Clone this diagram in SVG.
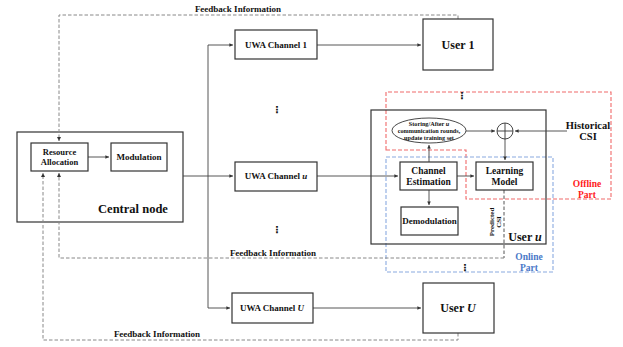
<svg xmlns="http://www.w3.org/2000/svg" width="623" height="347" viewBox="0 0 623 347">
  <style>
    text { font-family: "Liberation Serif", "Times New Roman", serif; font-weight: bold; fill: #111; text-anchor: middle; }
    .box { fill: #fff; stroke: #333; stroke-width: 1.2; }
    .frame { fill: none; stroke: #333; stroke-width: 1.2; }
    .wire { fill: none; stroke: #444; stroke-width: 0.9; }
    .fb { fill: none; stroke: #888; stroke-width: 1; stroke-dasharray: 3.5 2; }
    .fbd { fill: none; stroke: #555; stroke-width: 1; stroke-dasharray: 3.5 2; }
    .red { fill: none; stroke: #f06a6a; stroke-width: 1.1; stroke-dasharray: 4 2; }
    .blue { fill: none; stroke: #8aaae0; stroke-width: 1.1; stroke-dasharray: 4 2; }
    .dots { font-family: "DejaVu Sans", sans-serif; font-size: 10px; }
  </style>
  <defs>
    <marker id="arr" viewBox="0 0 6 6" refX="6" refY="3" markerWidth="4" markerHeight="4" orient="auto">
      <path d="M0,0 L6,3 L0,6 Z" fill="#333"/>
    </marker>
  </defs>

  <rect width="623" height="347" fill="#fff"/>

  <!-- offline / online regions -->
  <g id="offline-part">
    <path class="red" d="M386,150 V92 H611 V199 H466 V150 Z"/>
    <text x="587" y="187" font-size="9.5" style="fill:#ff1a1a">Offline</text>
    <text x="587" y="198" font-size="9.5" style="fill:#ff1a1a">Part</text>
  </g>
  <g id="online-part">
    <rect class="blue" x="386" y="157" width="167" height="115"/>
    <text x="529" y="260" font-size="9.5" style="fill:#4a78c8">Online</text>
    <text x="529" y="271" font-size="9.5" style="fill:#4a78c8">Part</text>
  </g>

  <!-- frames drawn beneath the connectors -->
  <g id="central-node">
    <rect class="frame" x="17" y="132" width="166" height="90"/>
    <text x="133" y="213" font-size="12.5">Central node</text>
  </g>
  <g id="user-u">
    <rect class="frame" x="371" y="110" width="175" height="134"/>
    <text x="525" y="241" font-size="12">User <tspan font-style="italic">u</tspan></text>
  </g>

  <!-- connectors -->
  <g id="connectors">
    <!-- central node to channels -->
    <path class="wire" d="M183,176 H233" marker-end="url(#arr)"/>
    <path class="wire" d="M208,308 V45 H233" marker-end="url(#arr)"/>
    <path class="wire" d="M208,308 H230" marker-end="url(#arr)"/>
    <!-- channels to users -->
    <path class="wire" d="M317,45 H421" marker-end="url(#arr)"/>
    <path class="wire" d="M317,176 H398" marker-end="url(#arr)"/>
    <path class="wire" d="M313,308 H421" marker-end="url(#arr)"/>
    <!-- inside central node -->
    <path class="wire" d="M88,157 H109" marker-end="url(#arr)"/>
    <!-- inside user u -->
    <path class="wire" d="M457,176 H474" marker-end="url(#arr)"/>
    <path class="wire" d="M429,190 V205" marker-end="url(#arr)"/>
    <path class="wire" d="M429,162 V145" marker-end="url(#arr)"/>
    <path class="wire" d="M466,131 H495" marker-end="url(#arr)"/>
    <path class="wire" d="M567,131 H515" marker-end="url(#arr)"/>
    <path class="wire" d="M505,139 V160" marker-end="url(#arr)"/>
    <!-- feedback paths -->
    <path class="fb" d="M458,19 V15 H59 V141" marker-end="url(#arr)"/>
    <path class="fbd" d="M504,190 V258"/>
    <path class="fb" d="M504,258 H59 V173" marker-end="url(#arr)"/>
    <path class="fb" d="M458,333 V340 H43 V173" marker-end="url(#arr)"/>
    <text x="238" y="12" font-size="9">Feedback Information</text>
    <text x="273" y="256" font-size="9">Feedback Information</text>
    <text x="157" y="337" font-size="9">Feedback Information</text>
    <text x="588" y="129" font-size="10.5">Historical</text>
    <text x="588" y="140" font-size="10.5">CSI</text>
    <text transform="translate(494,222) rotate(-90)" font-size="7">Predicted</text>
    <text transform="translate(501,222) rotate(-90)" font-size="7">CSI</text>
  </g>

  <!-- continuation marks -->
  <text class="dots" x="277" y="113">⋮</text>
  <text class="dots" x="277" y="233">⋮</text>
  <text class="dots" x="462" y="99">⋮</text>
  <text class="dots" x="465" y="271">⋮</text>

  <g id="resource-allocation">
    <rect class="box" x="31" y="143" width="57" height="28"/>
    <text x="59.5" y="155" font-size="8.5">Resource</text>
    <text x="59.5" y="165" font-size="8.5">Allocation</text>
  </g>
  <g id="modulation">
    <rect class="box" x="111" y="143" width="56" height="28"/>
    <text x="139" y="160" font-size="9">Modulation</text>
  </g>

  <g id="uwa-channel-1">
    <rect class="box" x="235" y="30" width="82" height="29"/>
    <text x="276" y="48" font-size="9">UWA Channel 1</text>
  </g>
  <g id="uwa-channel-u">
    <rect class="box" x="235" y="162" width="82" height="29"/>
    <text x="276" y="179" font-size="9">UWA Channel <tspan font-style="italic">u</tspan></text>
  </g>
  <g id="uwa-channel-U">
    <rect class="box" x="232" y="293" width="81" height="30"/>
    <text x="272" y="311" font-size="9">UWA Channel <tspan font-style="italic">U</tspan></text>
  </g>

  <g id="user-1">
    <rect class="box" x="423" y="19" width="70" height="51"/>
    <text x="458" y="49" font-size="12">User 1</text>
  </g>
  <g id="user-U">
    <rect class="box" x="423" y="283" width="71" height="50"/>
    <text x="458" y="312" font-size="12">User <tspan font-style="italic">U</tspan></text>
  </g>

  <g id="training-set">
    <ellipse cx="429" cy="130.5" rx="37" ry="12.5" fill="#fff" stroke="#333" stroke-width="0.9"/>
    <text x="429" y="126" font-size="6.2">Storing/After <tspan font-style="italic">u</tspan></text>
    <text x="429" y="133" font-size="6.2">communication rounds,</text>
    <text x="429" y="140" font-size="6.2">update training set</text>
  </g>
  <g id="combiner">
    <circle cx="505" cy="131" r="8" fill="#fff" stroke="#333" stroke-width="0.9"/>
    <path d="M497,131 H513 M505,123 V139" stroke="#333" stroke-width="0.9"/>
  </g>
  <g id="channel-estimation">
    <rect class="box" x="400" y="162" width="57" height="28"/>
    <text x="428.5" y="174" font-size="9.5">Channel</text>
    <text x="428.5" y="185" font-size="9.5">Estimation</text>
  </g>
  <g id="learning-model">
    <rect class="box" x="476" y="162" width="57" height="28"/>
    <text x="504.5" y="174" font-size="9.5">Learning</text>
    <text x="504.5" y="185" font-size="9.5">Model</text>
  </g>
  <g id="demodulation">
    <rect class="box" x="401" y="207" width="57" height="28"/>
    <text x="429.5" y="224" font-size="9">Demodulation</text>
  </g>
</svg>
